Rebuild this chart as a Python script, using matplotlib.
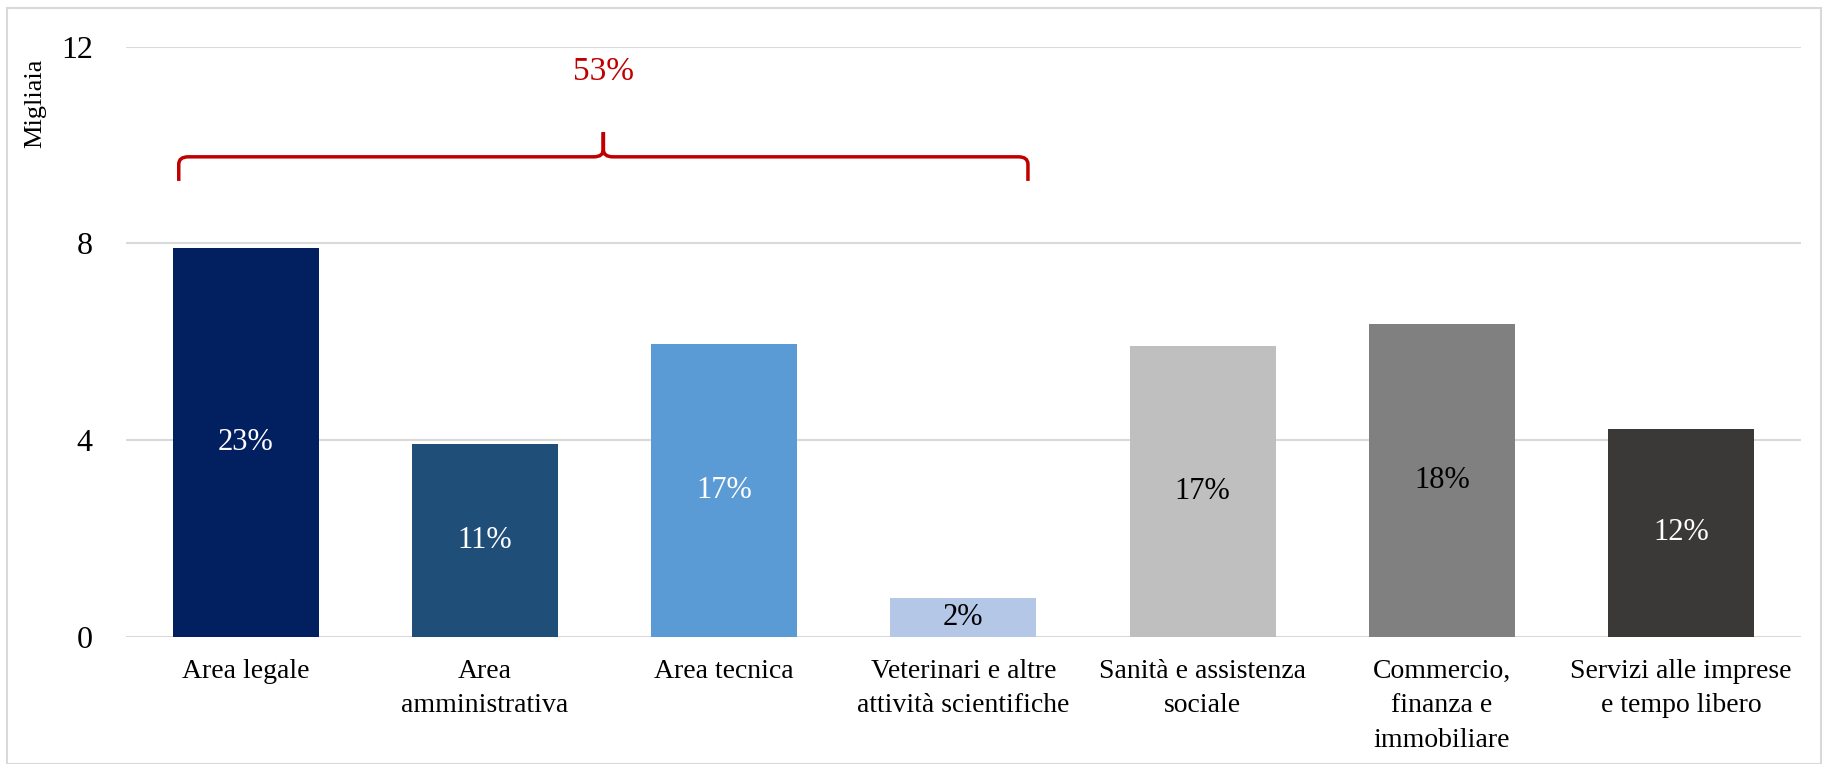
import numpy as np
import matplotlib.pyplot as plt
from matplotlib.path import Path
from matplotlib.patches import PathPatch, Rectangle

plt.rcParams['font.family'] = ['Liberation Serif', 'DejaVu Serif']

categories = ['Area legale', 'Area\namministrativa', 'Area tecnica',
              'Veterinari e altre\nattività scientifiche', 'Sanità e assistenza\nsociale',
              'Commercio,\nfinanza e\nimmobiliare', 'Servizi alle imprese\ne tempo libero']
values = [7.9, 3.92, 5.95, 0.79, 5.91, 6.36, 4.22]
shares = ['23%', '11%', '17%', '2%', '17%', '18%', '12%']
colors = ['#022060', '#1F4E79', '#5B9BD5', '#B4C7E7', '#BFBFBF', '#808080', '#3B3838']
label_colors = ['white', 'white', 'white', 'black', 'black', 'black', 'white']
group_share = '53%'

fig = plt.figure(figsize=(18.28, 7.64), dpi=100)
ax = fig.add_axes([0.069, 0.1666, 0.916, 0.7723])

x = np.arange(len(categories))
bars = ax.bar(x, values, width=0.61, color=colors, zorder=3)

for b, s, c in zip(bars, shares, label_colors):
    ax.text(b.get_x() + b.get_width() / 2, b.get_height() / 2, s,
            ha='center', va='center', fontsize=22, color=c, zorder=4)

ax.set_xlim(-0.5, len(categories) - 0.5)
ax.set_ylim(0, 12)
ax.set_yticks([0, 4, 8, 12])
ax.set_xticks(x)
ax.set_xticklabels(categories, fontsize=20, linespacing=1.5)
ax.tick_params(axis='both', length=0, labelsize=20)
ax.tick_params(axis='y', pad=24, labelsize=23)
ax.tick_params(axis='x', pad=16)
ax.yaxis.grid(True, color='#D9D9D9', linewidth=1.5, zorder=0)
for sp in ax.spines.values():
    sp.set_visible(False)

# curly brace over the first four bars
x0, x1 = -0.28, 3.27
xm = (x0 + x1) / 2
yb, yh, yp = 9.27, 9.76, 10.26
r = 0.04
verts = [(x0, yb), (x0, yh - 0.15), (x0, yh), (x0 + r, yh),
         (xm - r, yh), (xm, yh), (xm, yh + 0.15), (xm, yp),
         (xm, yh + 0.15), (xm, yh), (xm + r, yh),
         (x1 - r, yh), (x1, yh), (x1, yh - 0.15), (x1, yb)]
codes = [Path.MOVETO, Path.LINETO, Path.CURVE3, Path.CURVE3,
         Path.LINETO, Path.CURVE3, Path.CURVE3, Path.LINETO,
         Path.LINETO, Path.CURVE3, Path.CURVE3,
         Path.LINETO, Path.CURVE3, Path.CURVE3, Path.LINETO]
ax.add_patch(PathPatch(Path(verts, codes), facecolor='none', edgecolor='#C00000',
                       linewidth=2.5, clip_on=False, zorder=5))
ax.text(xm, 11.5, group_share, ha='center', va='center', fontsize=24,
        color='#C00000', clip_on=False)

fig.text(0.019, 0.865, 'Migliaia', rotation=90, ha='center', va='center', fontsize=19)

fig.patches.append(Rectangle((0.004, 0.0), 0.992, 0.99, transform=fig.transFigure,
                             fill=False, edgecolor='#D9D9D9', linewidth=1.5))

plt.savefig('out.png', dpi=100)
